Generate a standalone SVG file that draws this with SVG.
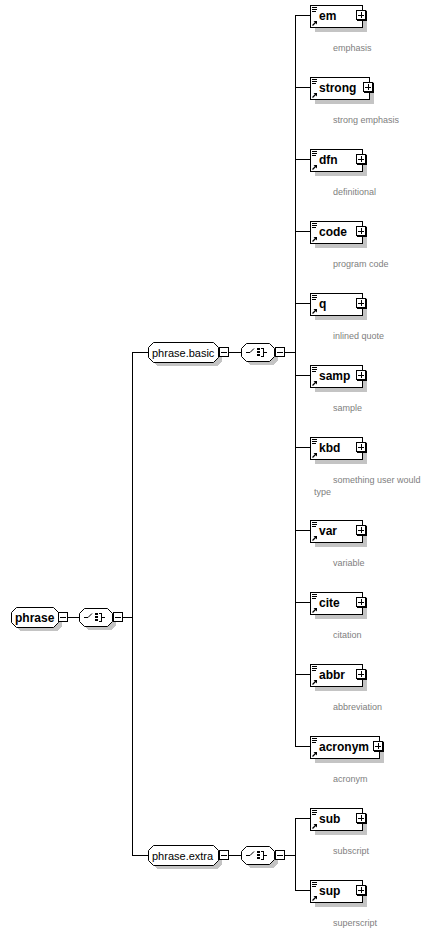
<svg xmlns="http://www.w3.org/2000/svg" xmlns:xlink="http://www.w3.org/1999/xlink" width="436" height="945" viewBox="0 0 436 945">
<style>
.bg{fill:#ffffff}
.ln{fill:none;stroke:#000;stroke-width:1;shape-rendering:crispEdges}
.box{fill:#fff;stroke:#000;stroke-width:1;shape-rendering:crispEdges}
.oct{fill:#fff;stroke:#000;stroke-width:1}
.sh{fill:#c4c4c4;stroke:none;shape-rendering:crispEdges}
.el{font-family:"Liberation Sans",Arial,sans-serif;font-size:12px;font-weight:bold;fill:#000}
.gr{font-family:"Liberation Sans",Arial,sans-serif;font-size:11px;fill:#000}
.root{font-family:"Liberation Sans",Arial,sans-serif;font-size:12px;font-weight:bold;fill:#000}
.desc{font-family:"Liberation Sans",Arial,sans-serif;font-size:9px;fill:#808080}
</style>
<defs>
<g id="plus">
<rect class="box" x="0.5" y="0.5" width="9" height="9"/>
<path class="ln" d="M2,5H8M5,2V8"/>
<path class="ln" d="M10,1V10H1"/>
</g>
<g id="minus">
<rect class="box" x="0.5" y="0.5" width="9" height="9"/>
<path class="ln" d="M2,5H8"/>
</g>
<g id="doc">
<path class="ln" d="M0,0.5H5M0,2.5H5M0,4.5H4"/>
</g>
<g id="ref">
<path d="M0.5,4.5L4,1" fill="none" stroke="#000" stroke-width="1.3"/>
<polygon points="1.5,0 5,0 5,3.5" fill="#000"/>
</g>
<g id="seq">
<path class="ln" d="M-12,0.5H-8"/>
<path d="M-8,0.5L-4,-3.5" fill="none" stroke="#000" stroke-width="1"/>
<rect x="-1" y="-4" width="3" height="2" fill="#000"/>
<rect x="-1" y="-1" width="3" height="2" fill="#000"/>
<rect x="-1" y="2" width="3" height="2" fill="#000"/>
<path class="ln" d="M3,-3.5H5.5V4.5H3M5.5,0.5H9"/>
</g>
<path id="octC" d="M5,0H28L33,5V13L28,18H5L0,13V5Z"/>
</defs>
<rect class="bg" x="0" y="0" width="436" height="945"/>

<g id="connectors">
<path class="ln" d="M68,617.5H79M122,617.5H132.5M132.5,352V856M132,352.5H148M132,855.5H148"/>
<path class="ln" d="M228,352.5H241M284,352.5H295.5M295.5,15V747"/>
<path class="ln" d="M295,15.5H310M295,87.5H310M295,159.5H310M295,231.5H310M295,303.5H310M295,375.5H310M295,447.5H310M295,530.5H310M295,602.5H310M295,674.5H310M295,746.5H310"/>
<path class="ln" d="M228,855.5H241M284,855.5H295.5M295.5,818V891M295,818.5H310M295,890.5H310"/>
</g>

<g id="phrase">
<path class="sh" d="M20,611H57L62,616V626L57,631H20L15,626V616Z"/>
<path class="oct" d="M16.5,607.5H53.5L58.5,612.5V622.5L53.5,627.5H16.5L11.5,622.5V612.5Z"/>
<text class="root" x="15" y="621.5">phrase</text>
<use xlink:href="#minus" x="58" y="612"/>
</g>
<g id="phrase-seq">
<use xlink:href="#octC" x="83" y="612" class="sh"/>
<use xlink:href="#octC" x="79.5" y="608.5" class="oct"/>
<use xlink:href="#seq" x="96" y="617"/>
<use xlink:href="#minus" x="113" y="612"/>
</g>

<g id="phrase.basic">
<path class="sh" d="M157,346H217L222,351V361L217,366H157L152,361V351Z"/>
<path class="oct" d="M153.5,342.5H213.5L218.5,347.5V357.5L213.5,362.5H153.5L148.5,357.5V347.5Z"/>
<text class="gr" x="152" y="356.5">phrase.basic</text>
<use xlink:href="#minus" x="219" y="347"/>
</g>
<g id="basic-seq">
<use xlink:href="#octC" x="245" y="347" class="sh"/>
<use xlink:href="#octC" x="241.5" y="343.5" class="oct"/>
<use xlink:href="#seq" x="258" y="352"/>
<use xlink:href="#minus" x="275" y="347"/>
</g>

<g id="phrase.extra">
<path class="sh" d="M157,849H217L222,854V864L217,869H157L152,864V854Z"/>
<path class="oct" d="M153.5,845.5H213.5L218.5,850.5V860.5L213.5,865.5H153.5L148.5,860.5V850.5Z"/>
<text class="gr" x="152" y="859.5">phrase.extra</text>
<use xlink:href="#minus" x="219" y="850"/>
</g>
<g id="extra-seq">
<use xlink:href="#octC" x="245" y="850" class="sh"/>
<use xlink:href="#octC" x="241.5" y="846.5" class="oct"/>
<use xlink:href="#seq" x="258" y="855"/>
<use xlink:href="#minus" x="275" y="850"/>
</g>

<g id="em">
<rect class="sh" x="315" y="10" width="52" height="22"/>
<rect class="box" x="310.5" y="5.5" width="52" height="22"/>
<use xlink:href="#doc" x="312" y="7"/>
<use xlink:href="#ref" x="312" y="21"/>
<text class="el" x="319" y="20">em</text>
<use xlink:href="#plus" x="356" y="10"/>
<text class="desc" x="333" y="51">emphasis</text>
</g>
<g id="strong">
<rect class="sh" x="315" y="82" width="59" height="22"/>
<rect class="box" x="310.5" y="77.5" width="59" height="22"/>
<use xlink:href="#doc" x="312" y="79"/>
<use xlink:href="#ref" x="312" y="93"/>
<text class="el" x="319" y="92">strong</text>
<use xlink:href="#plus" x="363" y="82"/>
<text class="desc" x="333" y="123">strong emphasis</text>
</g>
<g id="dfn">
<rect class="sh" x="315" y="154" width="52" height="22"/>
<rect class="box" x="310.5" y="149.5" width="52" height="22"/>
<use xlink:href="#doc" x="312" y="151"/>
<use xlink:href="#ref" x="312" y="165"/>
<text class="el" x="319" y="164">dfn</text>
<use xlink:href="#plus" x="356" y="154"/>
<text class="desc" x="333" y="195">definitional</text>
</g>
<g id="code">
<rect class="sh" x="315" y="226" width="52" height="22"/>
<rect class="box" x="310.5" y="221.5" width="52" height="22"/>
<use xlink:href="#doc" x="312" y="223"/>
<use xlink:href="#ref" x="312" y="237"/>
<text class="el" x="319" y="236">code</text>
<use xlink:href="#plus" x="356" y="226"/>
<text class="desc" x="333" y="267">program code</text>
</g>
<g id="q">
<rect class="sh" x="315" y="298" width="52" height="22"/>
<rect class="box" x="310.5" y="293.5" width="52" height="22"/>
<use xlink:href="#doc" x="312" y="295"/>
<use xlink:href="#ref" x="312" y="309"/>
<text class="el" x="319" y="308">q</text>
<use xlink:href="#plus" x="356" y="298"/>
<text class="desc" x="333" y="339">inlined quote</text>
</g>
<g id="samp">
<rect class="sh" x="315" y="370" width="52" height="22"/>
<rect class="box" x="310.5" y="365.5" width="52" height="22"/>
<use xlink:href="#doc" x="312" y="367"/>
<use xlink:href="#ref" x="312" y="381"/>
<text class="el" x="319" y="380">samp</text>
<use xlink:href="#plus" x="356" y="370"/>
<text class="desc" x="333" y="411">sample</text>
</g>
<g id="kbd">
<rect class="sh" x="315" y="442" width="52" height="22"/>
<rect class="box" x="310.5" y="437.5" width="52" height="22"/>
<use xlink:href="#doc" x="312" y="439"/>
<use xlink:href="#ref" x="312" y="453"/>
<text class="el" x="319" y="452">kbd</text>
<use xlink:href="#plus" x="356" y="442"/>
<text class="desc" x="333" y="483">something user would</text>
<text class="desc" x="314" y="495">type</text>
</g>
<g id="var">
<rect class="sh" x="315" y="525" width="52" height="22"/>
<rect class="box" x="310.5" y="520.5" width="52" height="22"/>
<use xlink:href="#doc" x="312" y="522"/>
<use xlink:href="#ref" x="312" y="536"/>
<text class="el" x="319" y="535">var</text>
<use xlink:href="#plus" x="356" y="525"/>
<text class="desc" x="333" y="566">variable</text>
</g>
<g id="cite">
<rect class="sh" x="315" y="597" width="52" height="22"/>
<rect class="box" x="310.5" y="592.5" width="52" height="22"/>
<use xlink:href="#doc" x="312" y="594"/>
<use xlink:href="#ref" x="312" y="608"/>
<text class="el" x="319" y="607">cite</text>
<use xlink:href="#plus" x="356" y="597"/>
<text class="desc" x="333" y="638">citation</text>
</g>
<g id="abbr">
<rect class="sh" x="315" y="669" width="52" height="22"/>
<rect class="box" x="310.5" y="664.5" width="52" height="22"/>
<use xlink:href="#doc" x="312" y="666"/>
<use xlink:href="#ref" x="312" y="680"/>
<text class="el" x="319" y="679">abbr</text>
<use xlink:href="#plus" x="356" y="669"/>
<text class="desc" x="333" y="710">abbreviation</text>
</g>
<g id="acronym">
<rect class="sh" x="315" y="741" width="69" height="22"/>
<rect class="box" x="310.5" y="736.5" width="69" height="22"/>
<use xlink:href="#doc" x="312" y="738"/>
<use xlink:href="#ref" x="312" y="752"/>
<text class="el" x="319" y="751">acronym</text>
<use xlink:href="#plus" x="373" y="741"/>
<text class="desc" x="333" y="782">acronym</text>
</g>
<g id="sub">
<rect class="sh" x="315" y="813" width="52" height="22"/>
<rect class="box" x="310.5" y="808.5" width="52" height="22"/>
<use xlink:href="#doc" x="312" y="810"/>
<use xlink:href="#ref" x="312" y="824"/>
<text class="el" x="319" y="823">sub</text>
<use xlink:href="#plus" x="356" y="813"/>
<text class="desc" x="333" y="854">subscript</text>
</g>
<g id="sup">
<rect class="sh" x="315" y="885" width="52" height="22"/>
<rect class="box" x="310.5" y="880.5" width="52" height="22"/>
<use xlink:href="#doc" x="312" y="882"/>
<use xlink:href="#ref" x="312" y="896"/>
<text class="el" x="319" y="895">sup</text>
<use xlink:href="#plus" x="356" y="885"/>
<text class="desc" x="333" y="926">superscript</text>
</g>
</svg>
